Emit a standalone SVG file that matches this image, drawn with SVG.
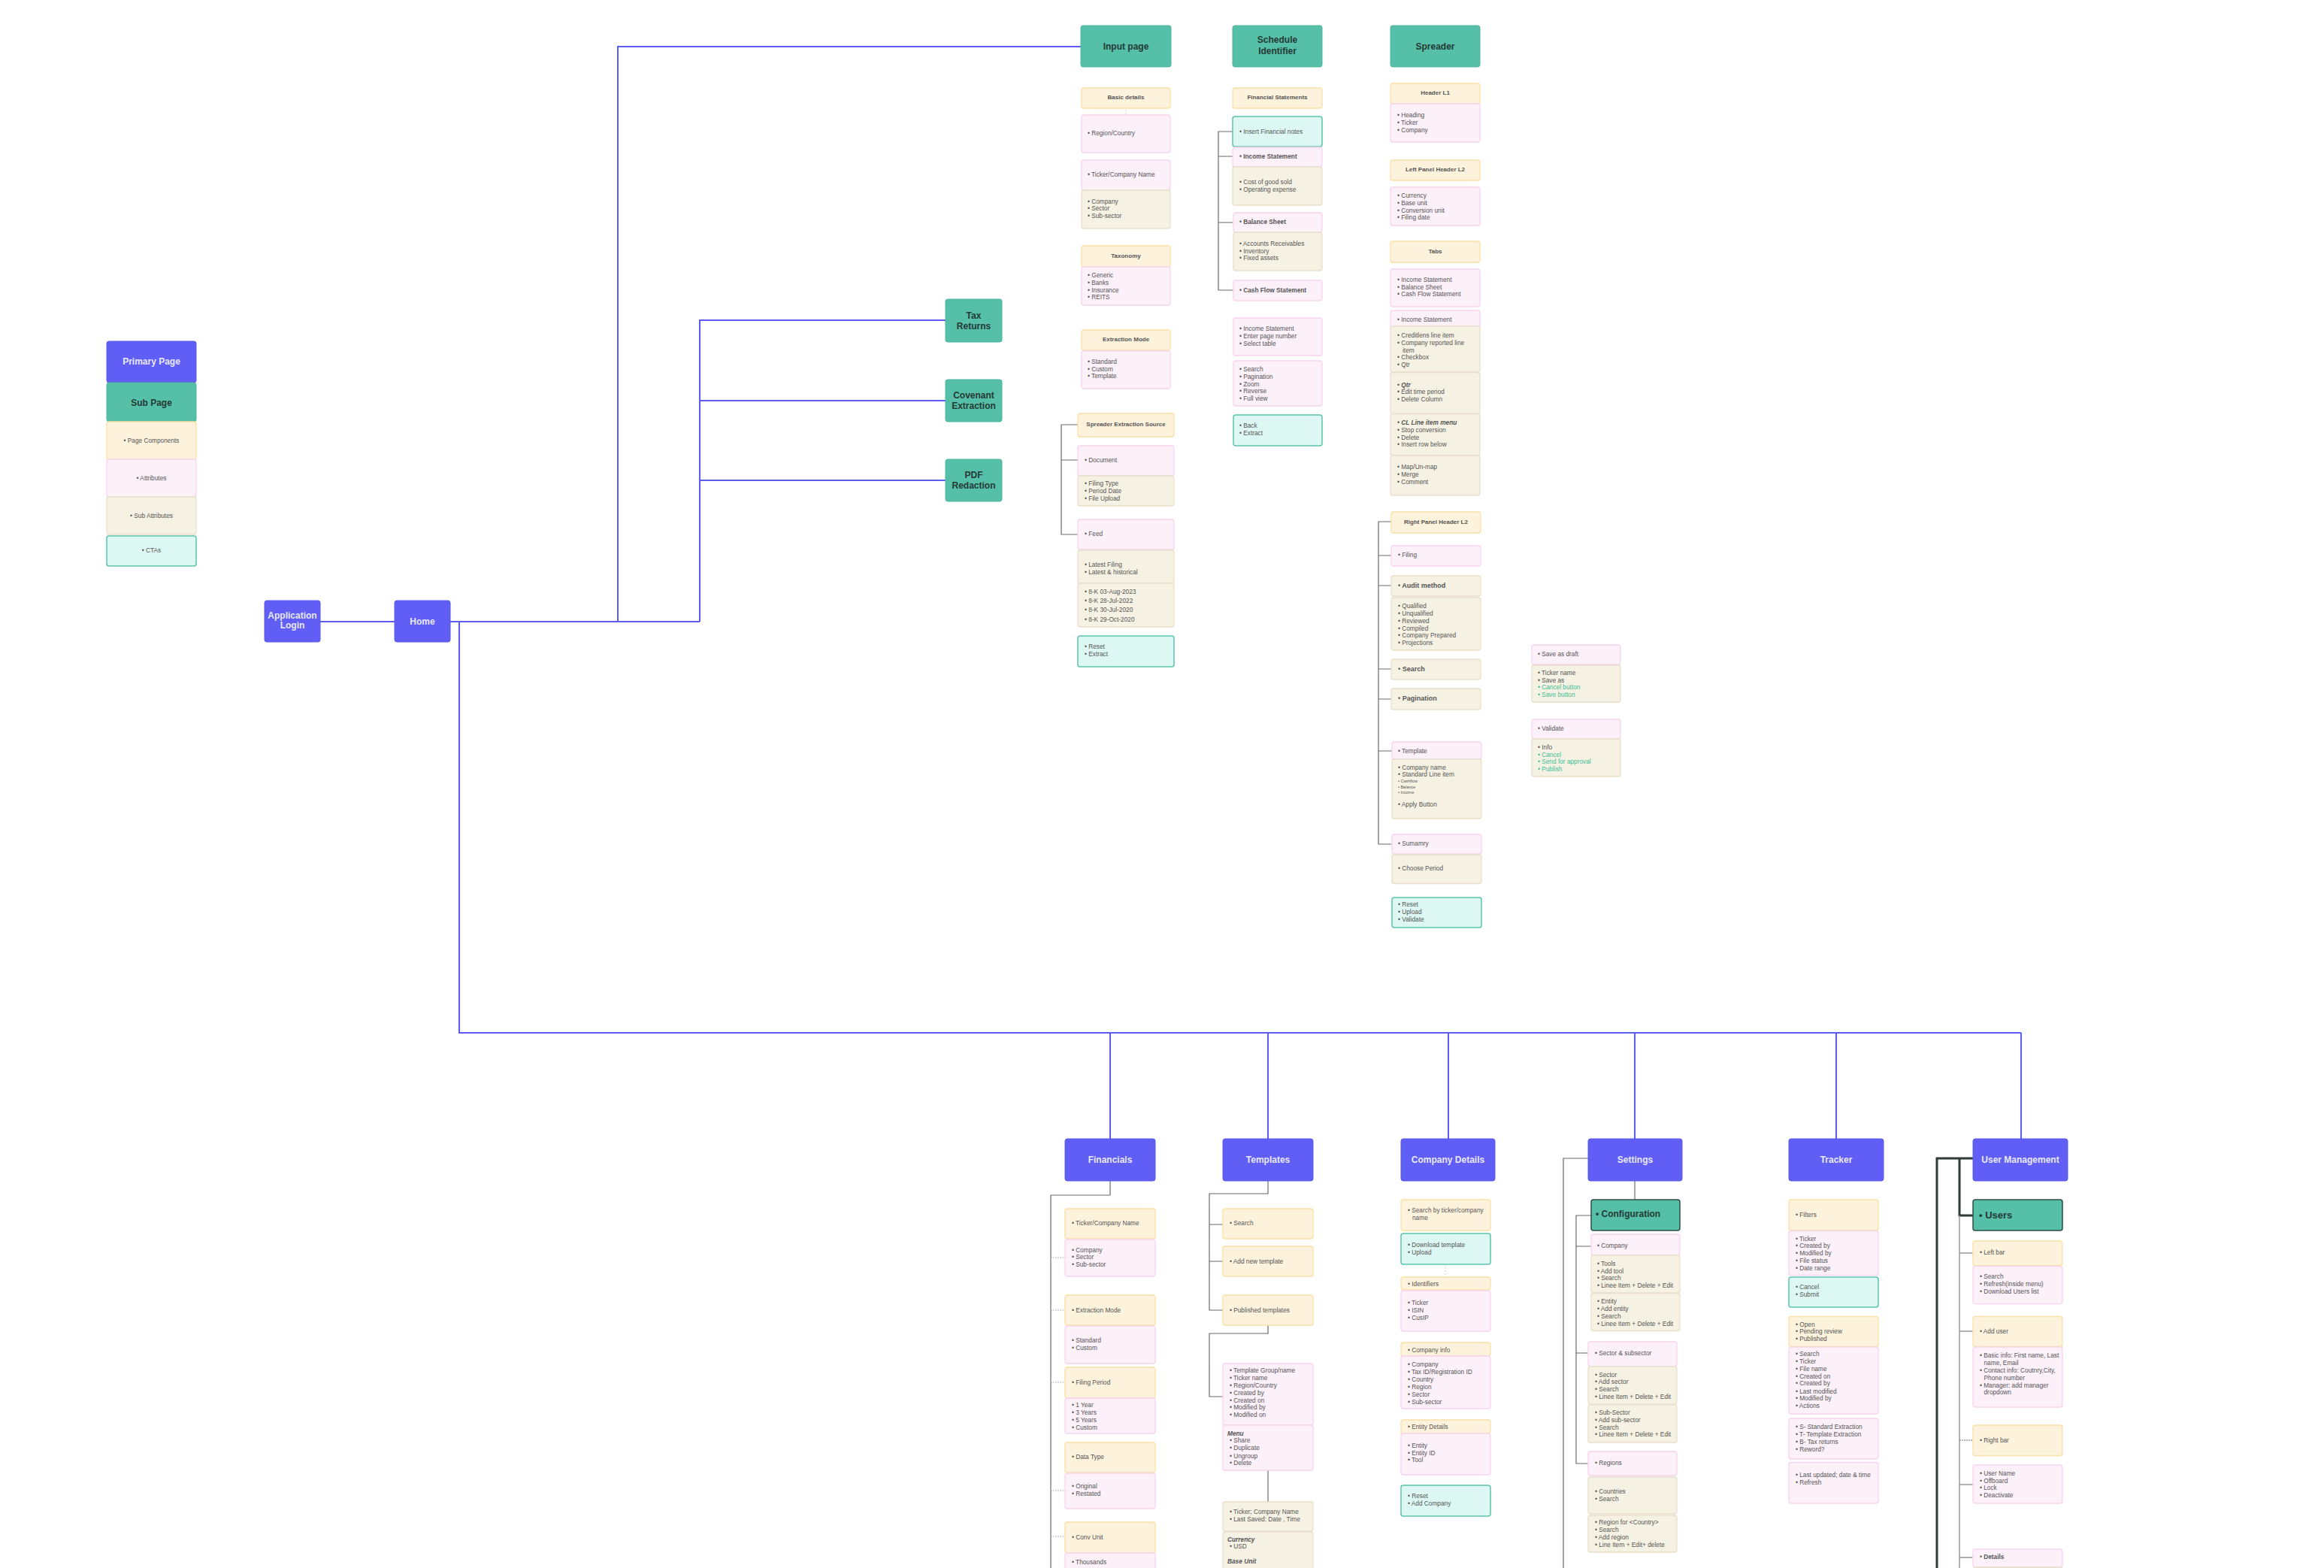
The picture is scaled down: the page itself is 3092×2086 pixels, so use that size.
<svg xmlns="http://www.w3.org/2000/svg" width="3092" height="2086" viewBox="0 0 3092 2086">
<style>
rect{rx:3px;ry:3px}
.p{fill:#605ef4;stroke:#5a58ec;stroke-width:1}
.t{fill:#55bfa7;stroke:#4fb59d;stroke-width:1}
.tb{fill:#55bfa7;stroke:#2e4c45;stroke-width:1.5}
.y{fill:#fdf2dc;stroke:#fae0a5;stroke-width:1.3}
.k{fill:#fcf0f9;stroke:#f8d4ee;stroke-width:1.3}
.b{fill:#f6f2e3;stroke:#e6e0cb;stroke-width:1.3}
.c{fill:#ddf8f2;stroke:#5cc3ab;stroke-width:1.5}
text{font-family:"Liberation Sans",Arial,sans-serif}
.mp{font-weight:bold;font-size:12px;fill:#e8e8ff;text-anchor:middle}
.mt{font-weight:bold;font-size:12px;fill:#243a35;text-anchor:middle}
.h{font-weight:bold;font-size:8px;fill:#555;text-anchor:middle}
.l{font-size:8.3px;fill:#555}
.lc{font-size:8.3px;fill:#555;text-anchor:middle}
.lb{font-weight:bold}
.b9{font-weight:bold;font-size:9px}
.bi{font-weight:bold;font-style:italic}
.gr{fill:#3dbd98}
.sm{font-size:5.5px}
.cp{fill:none;stroke:#5d5cf0;stroke-width:2}
.cg{fill:none;stroke:#6a6a6a;stroke-width:1.2}
.cd{fill:none;stroke:#b5b5b5;stroke-width:1;stroke-dasharray:2 1}
.ck{fill:none;stroke:#2c3a38;stroke-width:3}
.cl{fill:none;stroke:#9a9a9a;stroke-width:1.5}
.cf{fill:none;stroke:#d0d0d0;stroke-width:1;stroke-dasharray:2 2}
</style>
<defs>
<marker id="arr" viewBox="0 0 10 10" refX="5" refY="5" markerWidth="8" markerHeight="8" orient="auto-start-reverse"><path d="M1 1 L8 5 L1 9" fill="none" stroke="#cccccc" stroke-width="1.2"/></marker>
</defs>
<rect x="0" y="0" width="3092" height="2086" fill="#ffffff" rx="0" ry="0"/>

<g id="connectors">
<path class="cp" d="M426 827 H525"/>
<path class="cp" d="M599 827 H931"/>
<path class="cp" d="M822 827 V62 H1438"/>
<path class="cp" d="M931 827 V426 H1258"/>
<path class="cp" d="M931 533 H1258"/>
<path class="cp" d="M931 639 H1258"/>
<path class="cp" d="M611 827 V1374 H2689"/>
<path class="cp" d="M1477 1374 V1515 M1687 1374 V1515 M1927 1374 V1515 M2175 1374 V1515 M2443 1374 V1515 M2689 1374 V1515"/>
<path class="cf" d="M1498 152 V119" marker-end="url(#arr)"/>
<path class="cg" d="M1434 565 H1412 V711 H1434 M1412 612 H1434"/>
<path class="cg" d="M1640 175 H1621 V386 H1641 M1621 208 H1640 M1621 296 H1641"/>
<path class="cg" d="M1851 694 H1834 V1123 H1852 M1834 739 H1851 M1834 779 H1851 M1834 890 H1851 M1834 930 H1851 M1834 999 H1852"/>
<path class="cg" d="M1477 1571 V1590 H1398 V2086"/>
<path class="cd" d="M1398 1673 H1417 M1398 1743 H1417 M1398 1839 H1417 M1398 1983 H1417 M1398 2044 H1417"/>
<path class="cg" d="M1687 1571 V1588 H1609 V1743 H1627 M1609 1629 H1627 M1609 1678 H1627"/>
<path class="cg" d="M1687 1763 V1774 H1609 V1858 H1627"/>
<path class="cg" d="M1687 1956 V1998"/>
<path class="cf" d="M1923 1682 V1699"/>
<path class="cg" d="M2113 1541 H2080 V2086"/>
<path class="cg" d="M2175 1571 V1596"/>
<path class="cg" d="M2117 1617 H2097 V1947 H2113 M2097 1658 H2117 M2097 1800 H2113"/>
<path class="ck" d="M2625 1541 H2577 V2086"/>
<path class="ck" d="M2607 1541 V1617 H2625"/>
<path class="cl" d="M2607 1617 V2086 M2607 1667 H2625 M2607 1771 H2625 M2607 1975 H2625 M2607 2072 H2625"/>
<path class="cg" d="M2607 1916 H2625" stroke="#333" stroke-dasharray="2 1"/>
</g>

<g id="legend-primary"><rect class="p" x="142" y="454" width="119" height="55"/><text class="mp" x="201.5" y="485" font-size="10">Primary Page</text></g>
<g id="legend-sub"><rect class="t" x="142" y="509" width="119" height="52"/><text class="mt" x="201.5" y="539.5">Sub Page</text></g>
<g id="legend-components"><rect class="y" x="142" y="561" width="119" height="50"/><text class="lc" x="201.5" y="589">• Page Components</text></g>
<g id="legend-attributes"><rect class="k" x="142" y="611" width="119" height="50"/><text class="lc" x="201.5" y="639">• Attributes</text></g>
<g id="legend-subattributes"><rect class="b" x="142" y="661" width="119" height="50"/><text class="lc" x="201.5" y="689">• Sub Attributes</text></g>
<g id="legend-ctas"><rect class="c" x="142" y="713" width="119" height="40"/><text class="lc" x="201.5" y="735">• CTAs</text></g>

<g id="application-login"><rect class="p" x="352" y="799" width="74" height="55"/><text class="mp" font-size="10" x="389" y="823">Application</text><text class="mp" font-size="10" x="389" y="835.5">Login</text></g>
<g id="home"><rect class="p" x="525" y="799" width="74" height="55"/><text class="mp" x="562" y="831">Home</text></g>

<g id="tax-returns"><rect class="t" x="1258" y="398" width="75" height="57"/><text class="mt" x="1295.5" y="424">Tax</text><text class="mt" x="1295.5" y="437.5">Returns</text></g>
<g id="covenant-extraction"><rect class="t" x="1258" y="505" width="75" height="56"/><text class="mt" x="1295.5" y="530">Covenant</text><text class="mt" x="1295.5" y="543.5">Extraction</text></g>
<g id="pdf-redaction"><rect class="t" x="1258" y="611" width="75" height="56"/><text class="mt" x="1295.5" y="636">PDF</text><text class="mt" x="1295.5" y="649.5">Redaction</text></g>

<g id="input-page"><rect class="t" x="1438" y="34" width="120" height="55"/><text class="mt" x="1498" y="66">Input page</text></g>
<g id="basic-details"><rect class="y" x="1439" y="117" width="118" height="27"/><text class="h" x="1498" y="132">Basic details</text></g>
<g id="region-country"><rect class="k" x="1439" y="153" width="118" height="50"/><text class="l" x="1447" y="180.3">• Region/Country</text></g>
<g id="ticker-company"><rect class="k" x="1439" y="213" width="118" height="40"/><text class="l" x="1447" y="235">• Ticker/Company Name</text></g>
<g id="company-sector"><rect class="b" x="1439" y="253" width="118" height="51"/><text class="l" x="1447" y="270.7">• Company</text><text class="l" x="1447" y="280.3">• Sector</text><text class="l" x="1447" y="290">• Sub-sector</text></g>
<g id="taxonomy"><rect class="y" x="1439" y="327" width="118" height="28"/><text class="h" x="1498" y="343.3">Taxonomy</text></g>
<g id="taxonomy-list"><rect class="k" x="1439" y="355" width="118" height="51"/><text class="l" x="1447" y="368.7">• Generic</text><text class="l" x="1447" y="378.7">• Banks</text><text class="l" x="1447" y="388.7">• Insurance</text><text class="l" x="1447" y="398">• REITS</text></g>
<g id="extraction-mode"><rect class="y" x="1439" y="439" width="118" height="27"/><text class="h" x="1498" y="454.3">Extraction Mode</text></g>
<g id="extraction-list"><rect class="k" x="1439" y="467" width="118" height="50"/><text class="l" x="1447" y="483.7">• Standard</text><text class="l" x="1447" y="493.7">• Custom</text><text class="l" x="1447" y="503.3">• Template</text></g>
<g id="spreader-source"><rect class="y" x="1434" y="550" width="128" height="31"/><text class="h" x="1498" y="567.3">Spreader Extraction Source</text></g>
<g id="document"><rect class="k" x="1434" y="593" width="128" height="40"/><text class="l" x="1443" y="615">• Document</text></g>
<g id="document-fields"><rect class="b" x="1434" y="633" width="128" height="40"/><text class="l" x="1443" y="646.3">• Filing Type</text><text class="l" x="1443" y="656">• Period Date</text><text class="l" x="1443" y="666">• File Upload</text></g>
<g id="feed"><rect class="k" x="1434" y="691" width="128" height="40"/><text class="l" x="1443" y="713.3">• Feed</text></g>
<g id="feed-options"><rect class="b" x="1434" y="732" width="128" height="44"/><text class="l" x="1443" y="754">• Latest Filing</text><text class="l" x="1443" y="763.7">• Latest &amp; historical</text></g>
<g id="feed-filings"><rect class="b" x="1434" y="776" width="128" height="58"/><text class="l" x="1443" y="790">• 8-K 03-Aug-2023</text><text class="l" x="1443" y="802.3">• 8-K 28-Jul-2022</text><text class="l" x="1443" y="814.3">• 8-K 30-Jul-2020</text><text class="l" x="1443" y="826.7">• 8-K 29-Oct-2020</text></g>
<g id="input-ctas"><rect class="c" x="1434" y="846" width="128" height="41"/><text class="l" x="1443" y="863">• Reset</text><text class="l" x="1443" y="872.7">• Extract</text></g>

<g id="schedule-identifier"><rect class="t" x="1640" y="34" width="119" height="55"/><text class="mt" x="1699.5" y="57">Schedule</text><text class="mt" x="1699.5" y="71.5">Identifier</text></g>
<g id="financial-statements"><rect class="y" x="1640" y="117" width="119" height="27"/><text class="h" x="1699.5" y="132">Financial Statements</text></g>
<g id="insert-notes"><rect class="c" x="1640" y="155" width="119" height="40"/><text class="l" x="1649" y="177.6">• Insert Financial notes</text></g>
<g id="income-statement"><rect class="k" x="1640" y="196" width="119" height="26"/><text class="l lb" x="1649" y="211">• Income Statement</text></g>
<g id="income-items"><rect class="b" x="1640" y="222" width="119" height="51"/><text class="l" x="1649" y="245">• Cost of good sold</text><text class="l" x="1649" y="255">• Operating expense</text></g>
<g id="balance-sheet"><rect class="k" x="1641" y="283" width="118" height="26"/><text class="l lb" x="1649" y="298.2">• Balance Sheet</text></g>
<g id="balance-items"><rect class="b" x="1641" y="309" width="118" height="51"/><text class="l" x="1649" y="327">• Accounts Receivables</text><text class="l" x="1649" y="336.7">• Inventory</text><text class="l" x="1649" y="346.3">• Fixed assets</text></g>
<g id="cash-flow"><rect class="k" x="1641" y="373" width="118" height="27"/><text class="l lb" x="1649" y="389.3">• Cash Flow Statement</text></g>
<g id="page-select"><rect class="k" x="1641" y="423" width="118" height="50"/><text class="l" x="1649" y="440.3">• Income Statement</text><text class="l" x="1649" y="450">• Enter page number</text><text class="l" x="1649" y="460">• Select table</text></g>
<g id="viewer-tools"><rect class="k" x="1641" y="480" width="118" height="60"/><text class="l" x="1649" y="493.6">• Search</text><text class="l" x="1649" y="503.6">• Pagination</text><text class="l" x="1649" y="513.6">• Zoom</text><text class="l" x="1649" y="523.2">• Reverse</text><text class="l" x="1649" y="532.8">• Full view</text></g>
<g id="schedule-ctas"><rect class="c" x="1641" y="552" width="118" height="41"/><text class="l" x="1649" y="568.7">• Back</text><text class="l" x="1649" y="578.7">• Extract</text></g>

<g id="spreader"><rect class="t" x="1850" y="34" width="119" height="55"/><text class="mt" x="1909.5" y="66">Spreader</text></g>
<g id="header-l1"><rect class="y" x="1850" y="111" width="119" height="27"/><text class="h" x="1909.5" y="126.3">Header L1</text></g>
<g id="header-l1-items"><rect class="k" x="1850" y="138" width="119" height="51"/><text class="l" x="1859" y="155.7">• Heading</text><text class="l" x="1859" y="165.9">• Ticker</text><text class="l" x="1859" y="175.7">• Company</text></g>
<g id="left-panel"><rect class="y" x="1850" y="213" width="119" height="27"/><text class="h" x="1909.5" y="228.3">Left Panel Header L2</text></g>
<g id="left-panel-items"><rect class="k" x="1850" y="249" width="119" height="51"/><text class="l" x="1859" y="262.6">• Currency</text><text class="l" x="1859" y="272.8">• Base unit</text><text class="l" x="1859" y="282.6">• Conversion unit</text><text class="l" x="1859" y="292.4">• Filing date</text></g>
<g id="tabs"><rect class="y" x="1850" y="321" width="119" height="28"/><text class="h" x="1909.5" y="337">Tabs</text></g>
<g id="tabs-items"><rect class="k" x="1850" y="358" width="119" height="50"/><text class="l" x="1859" y="374.8">• Income Statement</text><text class="l" x="1859" y="384.6">• Balance Sheet</text><text class="l" x="1859" y="394.4">• Cash Flow Statement</text></g>
<g id="tab-income"><rect class="k" x="1850" y="413" width="119" height="27"/><text class="l" x="1859" y="428.3">• Income Statement</text></g>
<g id="tab-income-columns"><rect class="b" x="1850" y="434" width="119" height="61"/><text class="l" x="1859" y="448.7">• Creditlens line item</text><text class="l" x="1859" y="458.9">• Company reported line</text><text class="l" x="1866" y="468.7">item</text><text class="l" x="1859" y="477.7">• Checkbox</text><text class="l" x="1859" y="487.5">• Qtr</text></g>
<g id="qtr-menu"><rect class="b" x="1850" y="495.5" width="119" height="55"/><text class="l" x="1859" y="514.8">• <tspan class="bi">Qtr</tspan></text><text class="l" x="1859" y="524.2">• Edit time period</text><text class="l" x="1859" y="533.6">• Delete Column</text></g>
<g id="cl-menu"><rect class="b" x="1850" y="550.5" width="119" height="55"/><text class="l bi" x="1859" y="565">• CL Line item menu</text><text class="l" x="1859" y="574.8">• Stop conversion</text><text class="l" x="1859" y="584.6">• Delete</text><text class="l" x="1859" y="594">• Insert row below</text></g>
<g id="map-menu"><rect class="b" x="1850" y="606" width="119" height="53"/><text class="l" x="1859" y="623.8">• Map/Un-map</text><text class="l" x="1859" y="634">• Merge</text><text class="l" x="1859" y="644.2">• Comment</text></g>
<g id="right-panel"><rect class="y" x="1851" y="681" width="119" height="28"/><text class="h" x="1910.5" y="696.7">Right Panel Header L2</text></g>
<g id="filing"><rect class="k" x="1851" y="726" width="119" height="27"/><text class="l" x="1860" y="741">• Filing</text></g>
<g id="audit-method"><rect class="b" x="1851" y="766" width="119" height="27"/><text class="l b9" x="1860" y="781.8">• Audit method</text></g>
<g id="audit-options"><rect class="b" x="1851" y="795" width="119" height="70"/><text class="l" x="1860" y="808.8">• Qualified</text><text class="l" x="1860" y="818.8">• Unqualified</text><text class="l" x="1860" y="828.7">• Reviewed</text><text class="l" x="1860" y="838.7">• Compiled</text><text class="l" x="1860" y="848.2">• Company Prepared</text><text class="l" x="1860" y="858.2">• Projections</text></g>
<g id="search"><rect class="b" x="1851" y="877" width="119" height="27"/><text class="l b9" x="1860" y="892.8">• Search</text></g>
<g id="pagination"><rect class="b" x="1851" y="916" width="119" height="28"/><text class="l b9" x="1860" y="932.2">• Pagination</text></g>
<g id="template"><rect class="k" x="1852" y="987" width="119" height="23"/><text class="l" x="1860" y="1002">• Template</text></g>
<g id="template-items"><rect class="b" x="1852" y="1010" width="119" height="79"/><text class="l" x="1860" y="1023.5">• Company name</text><text class="l" x="1860" y="1033.4">• Standard Line item</text><text class="l sm" x="1860" y="1041.3">• Cashflow</text><text class="l sm" x="1860" y="1048.5">• Balance</text><text class="l sm" x="1860" y="1056.2">• Income</text><text class="l" x="1860" y="1072.9">• Apply Button</text></g>
<g id="summary"><rect class="k" x="1852" y="1110" width="119" height="26"/><text class="l" x="1860" y="1125">• Sumamry</text></g>
<g id="choose-period"><rect class="b" x="1852" y="1137" width="119" height="38.5"/><text class="l" x="1860" y="1157.8">• Choose Period</text></g>
<g id="spreader-ctas"><rect class="c" x="1852" y="1194" width="119" height="40"/><text class="l" x="1860" y="1206.4">• Reset</text><text class="l" x="1860" y="1216.4">• Upload</text><text class="l" x="1860" y="1226">• Validate</text></g>
<g id="save-draft"><rect class="k" x="2038" y="858" width="118" height="26"/><text class="l" x="2046" y="872.7">• Save as draft</text></g>
<g id="save-draft-items"><rect class="b" x="2038" y="885" width="118" height="49"/><text class="l" x="2046" y="897.6">• Ticker name</text><text class="l" x="2046" y="907.5">• Save as</text><text class="l gr" x="2046" y="917.1">• Cancel button</text><text class="l gr" x="2046" y="927.1">• Save button</text></g>
<g id="validate"><rect class="k" x="2038" y="957" width="118" height="26"/><text class="l" x="2046" y="971.8">• Validate</text></g>
<g id="validate-items"><rect class="b" x="2038" y="983" width="118" height="50"/><text class="l" x="2046" y="996.7">• Info</text><text class="l gr" x="2046" y="1006.7">• Cancel</text><text class="l gr" x="2046" y="1016.2">• Send for approval</text><text class="l gr" x="2046" y="1026.2">• Publish</text></g>

<g id="financials"><rect class="p" x="1417" y="1515" width="120" height="56"/><text class="mp" x="1477" y="1547">Financials</text></g>
<g id="fin-ticker"><rect class="y" x="1417" y="1608" width="120" height="40"/><text class="l" x="1426" y="1630">• Ticker/Company Name</text></g>
<g id="fin-company"><rect class="k" x="1417" y="1649" width="120" height="49"/><text class="l" x="1426" y="1665.6">• Company</text><text class="l" x="1426" y="1675.3">• Sector</text><text class="l" x="1426" y="1685">• Sub-sector</text></g>
<g id="fin-extraction"><rect class="y" x="1417" y="1723" width="120" height="40"/><text class="l" x="1426" y="1745.5">• Extraction Mode</text></g>
<g id="fin-extraction-list"><rect class="k" x="1417" y="1764" width="120" height="50"/><text class="l" x="1426" y="1785.9">• Standard</text><text class="l" x="1426" y="1796">• Custom</text></g>
<g id="fin-filing"><rect class="y" x="1417" y="1819" width="120" height="41"/><text class="l" x="1426" y="1841.6">• Filing Period</text></g>
<g id="fin-filing-list"><rect class="k" x="1417" y="1860" width="120" height="47"/><text class="l" x="1426" y="1871.8">• 1 Year</text><text class="l" x="1426" y="1881.9">• 3 Years</text><text class="l" x="1426" y="1892">• 5 Years</text><text class="l" x="1426" y="1901.7">• Custom</text></g>
<g id="fin-datatype"><rect class="y" x="1417" y="1919" width="120" height="40"/><text class="l" x="1426" y="1941.3">• Data Type</text></g>
<g id="fin-datatype-list"><rect class="k" x="1417" y="1960" width="120" height="47"/><text class="l" x="1426" y="1979.8">• Original</text><text class="l" x="1426" y="1989.5">• Restated</text></g>
<g id="fin-conv"><rect class="y" x="1417" y="2025" width="120" height="41"/><text class="l" x="1426" y="2047.5">• Conv Unit</text></g>
<g id="fin-conv-list"><rect class="k" x="1417" y="2066" width="120" height="40"/><text class="l" x="1426" y="2081">• Thousands</text></g>

<g id="templates"><rect class="p" x="1627" y="1515" width="120" height="56"/><text class="mp" x="1687" y="1547">Templates</text></g>
<g id="tpl-search"><rect class="y" x="1627" y="1608" width="120" height="40"/><text class="l" x="1636" y="1630">• Search</text></g>
<g id="tpl-add"><rect class="y" x="1627" y="1658" width="120" height="40"/><text class="l" x="1636" y="1680.5">• Add new template</text></g>
<g id="tpl-published"><rect class="y" x="1627" y="1723" width="120" height="40"/><text class="l" x="1636" y="1745.5">• Published templates</text></g>
<g id="tpl-list"><rect class="k" x="1627" y="1814" width="120" height="82"/><text class="l" x="1636" y="1825.9">• Template Group/name</text><text class="l" x="1636" y="1835.6">• Ticker name</text><text class="l" x="1636" y="1845.7">• Region/Country</text><text class="l" x="1636" y="1855.8">• Created by</text><text class="l" x="1636" y="1865.5">• Created on</text><text class="l" x="1636" y="1875.2">• Modified by</text><text class="l" x="1636" y="1884.9">• Modified on</text></g>
<g id="tpl-menu"><rect class="k" x="1627" y="1896" width="120" height="60"/><text class="l bi" x="1633" y="1909.6">Menu</text><text class="l" x="1636" y="1919.3">• Share</text><text class="l" x="1636" y="1929.4">• Duplicate</text><text class="l" x="1636" y="1939.5">• Ungroup</text><text class="l" x="1636" y="1948.8">• Delete</text></g>
<g id="tpl-editor"><rect class="b" x="1627" y="1998" width="120" height="39"/><text class="l" x="1636" y="2014.2">• Ticker; Company Name</text><text class="l" x="1636" y="2023.9">• Last Saved: Date , Time</text></g>
<g id="tpl-units"><rect class="b" x="1627" y="2038" width="120" height="60"/><text class="l bi" x="1633" y="2050.5">Currency</text><text class="l" x="1636" y="2059.8">• USD</text><text class="l bi" x="1633" y="2079.6">Base Unit</text></g>

<g id="company-details"><rect class="p" x="1864" y="1515" width="125" height="56"/><text class="mp" x="1926.5" y="1547">Company Details</text></g>
<g id="cd-search"><rect class="y" x="1864" y="1596" width="119" height="41"/><text class="l" x="1873" y="1613.2">• Search by ticker/company</text><text class="l" x="1879" y="1623">name</text></g>
<g id="cd-ctas"><rect class="c" x="1864" y="1641" width="119" height="41"/><text class="l" x="1873" y="1658.8">• Download template</text><text class="l" x="1873" y="1668.5">• Upload</text></g>
<g id="cd-identifiers"><rect class="y" x="1864" y="1699" width="119" height="17"/><text class="l" x="1873" y="1710.8">• Identifiers</text></g>
<g id="cd-identifiers-list"><rect class="k" x="1864" y="1717" width="119" height="54"/><text class="l" x="1873" y="1735.8">• Ticker</text><text class="l" x="1873" y="1745.9">• ISIN</text><text class="l" x="1873" y="1755.6">• CusIP</text></g>
<g id="cd-info"><rect class="y" x="1864" y="1786" width="119" height="18"/><text class="l" x="1873" y="1799">• Company info</text></g>
<g id="cd-info-list"><rect class="k" x="1864" y="1804" width="119" height="70"/><text class="l" x="1873" y="1818.4">• Company</text><text class="l" x="1873" y="1828.1">• Tax ID/Registration ID</text><text class="l" x="1873" y="1838.2">• Country</text><text class="l" x="1873" y="1847.9">• Region</text><text class="l" x="1873" y="1858">• Sector</text><text class="l" x="1873" y="1867.7">• Sub-sector</text></g>
<g id="cd-entity"><rect class="y" x="1864" y="1889" width="119" height="18"/><text class="l" x="1873" y="1900.6">• Entity Details</text></g>
<g id="cd-entity-list"><rect class="k" x="1864" y="1907" width="119" height="55"/><text class="l" x="1873" y="1925.6">• Entity</text><text class="l" x="1873" y="1935.7">• Entity ID</text><text class="l" x="1873" y="1945.4">• Tool</text></g>
<g id="cd-ctas-2"><rect class="c" x="1864" y="1976" width="119" height="41"/><text class="l" x="1873" y="1992.9">• Reset</text><text class="l" x="1873" y="2003">• Add Company</text></g>

<g id="settings"><rect class="p" x="2113" y="1515" width="125" height="56"/><text class="mp" x="2175.5" y="1547">Settings</text></g>
<g id="configuration"><rect class="tb" x="2117" y="1596" width="118" height="41"/><text class="mt" text-anchor="start" style="text-anchor:start" x="2123" y="1618.5">• Configuration</text></g>
<g id="set-company"><rect class="k" x="2117" y="1642" width="118" height="28"/><text class="l" x="2125" y="1660">• Company</text></g>
<g id="set-tools"><rect class="b" x="2117" y="1670" width="118" height="50"/><text class="l" x="2125" y="1683.5">• Tools</text><text class="l" x="2125" y="1693.6">• Add tool</text><text class="l" x="2125" y="1703.3">• Search</text><text class="l" x="2125" y="1713">• Linee Item + Delete + Edit</text></g>
<g id="set-entity"><rect class="b" x="2117" y="1720.5" width="118" height="50"/><text class="l" x="2125" y="1734">• Entity</text><text class="l" x="2125" y="1744">• Add entity</text><text class="l" x="2125" y="1753.7">• Search</text><text class="l" x="2125" y="1763.5">• Linee Item + Delete + Edit</text></g>
<g id="set-sector"><rect class="k" x="2113" y="1785" width="118" height="33"/><text class="l" x="2122" y="1802.7">• Sector &amp; subsector</text></g>
<g id="set-sector-list"><rect class="b" x="2113" y="1818" width="118" height="50"/><text class="l" x="2122" y="1831.5">• Sector</text><text class="l" x="2122" y="1841.2">• Add sector</text><text class="l" x="2122" y="1851">• Search</text><text class="l" x="2122" y="1861">• Linee Item + Delete + Edit</text></g>
<g id="set-subsector-list"><rect class="b" x="2113" y="1869" width="118" height="50"/><text class="l" x="2122" y="1882">• Sub-Sector</text><text class="l" x="2122" y="1892">• Add sub-sector</text><text class="l" x="2122" y="1901.7">• Search</text><text class="l" x="2122" y="1911.4">• Linee Item + Delete + Edit</text></g>
<g id="set-regions"><rect class="k" x="2113" y="1931" width="118" height="32"/><text class="l" x="2122" y="1948.8">• Regions</text></g>
<g id="set-countries"><rect class="b" x="2113" y="1965" width="118" height="49"/><text class="l" x="2122" y="1986.6">• Countries</text><text class="l" x="2122" y="1996.6">• Search</text></g>
<g id="set-region-list"><rect class="b" x="2113" y="2016" width="118" height="49"/><text class="l" x="2122" y="2028.4">• Region for &lt;Country&gt;</text><text class="l" x="2122" y="2038.1">• Search</text><text class="l" x="2122" y="2047.8">• Add region</text><text class="l" x="2122" y="2057.6">• Line Item + Edit+ delete</text></g>

<g id="tracker"><rect class="p" x="2380" y="1515" width="126" height="56"/><text class="mp" x="2443" y="1547">Tracker</text></g>
<g id="trk-filters"><rect class="y" x="2380" y="1596" width="119" height="41"/><text class="l" x="2389" y="1618.8">• Filters</text></g>
<g id="trk-filter-list"><rect class="k" x="2380" y="1637.5" width="119" height="59"/><text class="l" x="2389" y="1650.6">• Ticker</text><text class="l" x="2389" y="1660.3">• Created by</text><text class="l" x="2389" y="1670.4">• Modified by</text><text class="l" x="2389" y="1680.1">• File status</text><text class="l" x="2389" y="1689.8">• Date range</text></g>
<g id="trk-ctas"><rect class="c" x="2380" y="1699" width="119" height="40"/><text class="l" x="2389" y="1715.3">• Cancel</text><text class="l" x="2389" y="1725">• Submit</text></g>
<g id="trk-status"><rect class="y" x="2380" y="1751.5" width="119" height="40"/><text class="l" x="2389" y="1764.6">• Open</text><text class="l" x="2389" y="1774.3">• Pending review</text><text class="l" x="2389" y="1784">• Published</text></g>
<g id="trk-columns"><rect class="k" x="2380" y="1792" width="119" height="89"/><text class="l" x="2389" y="1803.8">• Search</text><text class="l" x="2389" y="1813.5">• Ticker</text><text class="l" x="2389" y="1823.6">• File name</text><text class="l" x="2389" y="1833.7">• Created on</text><text class="l" x="2389" y="1843.4">• Created by</text><text class="l" x="2389" y="1853.5">• Last modified</text><text class="l" x="2389" y="1863.2">• Modified by</text><text class="l" x="2389" y="1873">• Actions</text></g>
<g id="trk-legend"><rect class="k" x="2380" y="1887" width="119" height="54"/><text class="l" x="2389" y="1901.4">• S- Standard Extraction</text><text class="l" x="2389" y="1911.1">• T- Template Extraction</text><text class="l" x="2389" y="1920.8">• B- Tax returns</text><text class="l" x="2389" y="1930.9">• Reword?</text></g>
<g id="trk-updated"><rect class="k" x="2380" y="1945.5" width="119" height="54.5"/><text class="l" x="2389" y="1964.9">• Last updated; date &amp; time</text><text class="l" x="2389" y="1974.6">• Refresh</text></g>

<g id="user-management"><rect class="p" x="2625" y="1515" width="126" height="56"/><text class="mp" x="2688" y="1547">User Management</text></g>
<g id="users"><rect class="tb" x="2625" y="1596" width="119" height="41"/><text class="mt" style="text-anchor:start;font-size:13px" x="2633" y="1621">• Users</text></g>
<g id="um-leftbar"><rect class="y" x="2625" y="1651" width="119" height="33"/><text class="l" x="2634" y="1669">• Left bar</text></g>
<g id="um-leftbar-list"><rect class="k" x="2625" y="1684.6" width="119" height="50"/><text class="l" x="2634" y="1701.4">• Search</text><text class="l" x="2634" y="1711.1">• Refresh(inside menu)</text><text class="l" x="2634" y="1720.9">• Download  Users list</text></g>
<g id="um-adduser"><rect class="y" x="2625" y="1751.5" width="119" height="40"/><text class="l" x="2634" y="1774">• Add user</text></g>
<g id="um-adduser-list"><rect class="k" x="2625" y="1792" width="119" height="80"/><text class="l" x="2634" y="1806.4">• Basic info: First name, Last</text><text class="l" x="2639.5" y="1816.2">name, Email</text><text class="l" x="2634" y="1825.9">• Contact info: Coutnry,City,</text><text class="l" x="2639.5" y="1835.6">Phone number</text><text class="l" x="2634" y="1845.7">• Manager: add manager</text><text class="l" x="2639.5" y="1855.4">dropdown</text></g>
<g id="um-rightbar"><rect class="y" x="2625" y="1896" width="119" height="40.5"/><text class="l" x="2634" y="1918.5">• Right bar</text></g>
<g id="um-rightbar-list"><rect class="k" x="2625" y="1949" width="119" height="51"/><text class="l" x="2634" y="1962.6">• User Name</text><text class="l" x="2634" y="1972.7">• Offboard</text><text class="l" x="2634" y="1982.4">• Lock</text><text class="l" x="2634" y="1992.2">• Deactivate</text></g>
<g id="um-details"><rect class="k" x="2625" y="2061" width="119" height="24"/><text class="l lb" x="2634" y="2074.4">• Details</text></g>
<g id="um-details-items"><rect class="b" x="2625" y="2085" width="119" height="20"/></g>
</svg>
